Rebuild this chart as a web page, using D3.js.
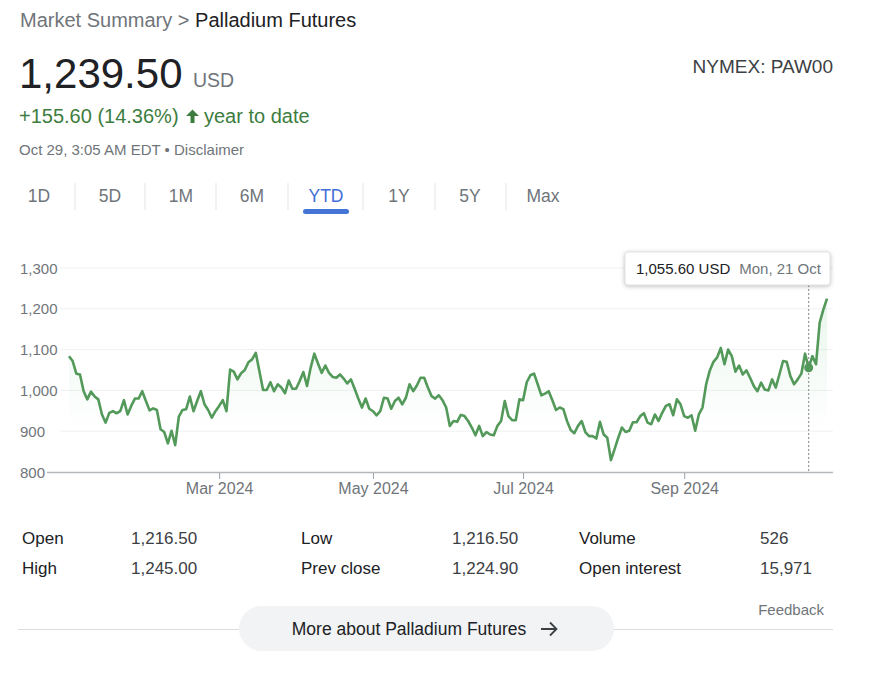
<!DOCTYPE html>
<html>
<head>
<meta charset="utf-8">
<script src="https://cdn.jsdelivr.net/npm/d3@7"></script>
<style>
  html, body { margin: 0; padding: 0; background: #fff; }
  svg { display: block; font-family: Arial, "Liberation Sans", sans-serif; }
</style>
</head>
<body>
<svg id="chart" width="881" height="673"></svg>
<script>
// ---------- data ----------
const values = [
  1083.9, 1072, 1041, 1039, 998, 978, 997, 985, 978, 941,
  921, 945, 949, 944, 949, 976, 941, 962, 980, 980,
  998, 974, 951, 956, 952, 905, 898, 870, 901, 866,
  936, 952, 954, 985, 949, 974, 998, 966, 952, 933,
  949, 962, 976, 949, 1051, 1046, 1027, 1042, 1050, 1069,
  1076, 1092, 1047, 1001, 1001, 1020, 998, 1015, 1007, 993,
  1024, 1004, 1004, 1023, 1045, 1011, 1056, 1090, 1066, 1043,
  1061, 1043, 1033, 1031, 1039, 1029, 1017, 1027, 1004, 980,
  958, 980, 955, 949, 939, 949, 982, 980, 955, 974,
  982, 966, 982, 1015, 998, 1012, 1031, 1031, 1007, 986,
  980, 988, 976, 958, 913, 925, 923, 940, 937, 925,
  909, 890, 913, 888, 898, 892, 890, 913, 925, 974,
  937, 927, 927, 978, 976, 1020, 1037, 1041, 1015, 988,
  992, 998, 976, 952, 958, 954, 925, 903, 895, 913,
  925, 898, 888, 888, 882, 923, 892, 884, 829, 856,
  884, 909, 898, 901, 922, 922, 937, 944, 921, 917,
  941, 925, 945, 962, 966, 939, 978, 966, 937, 933,
  939, 901, 941, 958, 1015, 1049, 1070, 1081, 1104, 1064,
  1100, 1084, 1046, 1061, 1039, 1049, 1031, 1011, 998, 1019,
  1002, 1000, 1027, 1007, 1039, 1072, 1070, 1035, 1015, 1027,
  1041, 1090, 1055.6, 1084, 1064, 1166, 1198, 1224.9
];
const startDate = "2024-01-02";
const endDate = "2024-10-28";
const holidays = ["2024-01-15", "2024-02-19", "2024-03-29", "2024-05-27", "2024-06-19", "2024-07-04", "2024-09-02"];
const yTicks = [800, 900, 1000, 1100, 1200, 1300];
const tickMonths = ["2024-03", "2024-05", "2024-07", "2024-09"];
const hoverIndex = 202;
const tabs = ["1D", "5D", "1M", "6M", "YTD", "1Y", "5Y", "Max"];
const activeTab = "YTD";
const statsLabels = [["Open", "High"], ["Low", "Prev close"], ["Volume", "Open interest"]];
const statsValues = [["1,216.50", "1,245.00"], ["1,216.50", "1,224.90"], ["526", "15,971"]];

// ---------- trading dates ----------
const parse = d3.timeParse("%Y-%m-%d");
const fmtDay = d3.timeFormat("%Y-%m-%d");
const hol = new Set(holidays);
const dates = d3.timeDays(parse(startDate), d3.timeDay.offset(parse(endDate), 1))
  .filter(d => d.getDay() !== 0 && d.getDay() !== 6 && !hol.has(fmtDay(d)));
const n = Math.min(dates.length, values.length);
const data = d3.range(n).map(i => ({ i, date: dates[i], v: values[i] }));
const fmtMonth = d3.timeFormat("%Y-%m");
const tickIdx = tickMonths.map(m => data.find(d => fmtMonth(d.date) === m).i);

// ---------- svg ----------
const svg = d3.select("#chart");
const grey = "#70757a", dark = "#202124", green = "#3d7d40", lineGreen = "#53995a";

// header
const h1 = svg.append("text").attr("x", 20).attr("y", 27).attr("font-size", 20);
h1.append("tspan").attr("fill", grey).text("Market Summary > ");
h1.append("tspan").attr("fill", dark).text("Palladium Futures");

svg.append("text").attr("x", 19).attr("y", 88).attr("font-size", 42).attr("fill", dark).text("1,239.50");
svg.append("text").attr("x", 193).attr("y", 87).attr("font-size", 19.5).attr("fill", grey).text("USD");
svg.append("text").attr("x", 833).attr("y", 73).attr("font-size", 19).attr("fill", "#3c4043")
  .attr("text-anchor", "end").text("NYMEX: PAW00");

svg.append("text").attr("x", 19).attr("y", 123).attr("font-size", 20).attr("fill", green).text("+155.60 (14.36%)");
svg.append("path").attr("d", "M192.5,109.5 l-6.5,6.5 h4.5 v7 h4 v-7 h4.5 z").attr("fill", green);
svg.append("text").attr("x", 204).attr("y", 123).attr("font-size", 20).attr("fill", green).text("year to date");
svg.append("text").attr("x", 19).attr("y", 155).attr("font-size", 15).attr("fill", grey)
  .text("Oct 29, 3:05 AM EDT • Disclaimer");

// tabs
const tabCenters = [39, 110, 181, 252, 326, 399, 470, 543];
const tabSeps = [75, 145, 216, 288, 363, 435, 506];
const tabG = svg.append("g");
tabG.selectAll("line").data(tabSeps).join("line")
  .attr("x1", d => d).attr("x2", d => d).attr("y1", 183).attr("y2", 210)
  .attr("stroke", "#e3e5e8").attr("stroke-width", 1);
tabG.selectAll("text").data(tabs).join("text")
  .attr("x", (d, i) => tabCenters[i]).attr("y", 202).attr("text-anchor", "middle")
  .attr("font-size", 17.5).attr("fill", d => d === activeTab ? "#3f6fd8" : grey).text(d => d);
const ai = tabs.indexOf(activeTab);
tabG.append("rect").attr("x", tabCenters[ai] - 23).attr("y", 209).attr("width", 46).attr("height", 5)
  .attr("rx", 2.5).attr("fill", "#4475d6");

// chart scales
const x = d3.scaleLinear().domain([0, n - 1]).range([69, 827]);
const y = d3.scaleLinear().domain([800, 1300]).range([472, 268]);

// gridlines
svg.append("g").selectAll("line").data(yTicks.filter(t => t > 800)).join("line")
  .attr("x1", 60).attr("x2", 833).attr("y1", d => y(d)).attr("y2", d => y(d))
  .attr("stroke", "#f0f1f2").attr("stroke-width", 1);

// y labels
svg.append("g").selectAll("text").data(yTicks).join("text")
  .attr("x", 20).attr("y", d => y(d) + 5.5).attr("font-size", 15).attr("fill", grey)
  .text(d => d3.format(",")(d));

// area gradient
const defs = svg.append("defs");
const grad = defs.append("linearGradient").attr("id", "ag").attr("x1", 0).attr("x2", 0).attr("y1", 0).attr("y2", 1);
grad.append("stop").attr("offset", "0%").attr("stop-color", "#34a853").attr("stop-opacity", 0.11);
grad.append("stop").attr("offset", "75%").attr("stop-color", "#34a853").attr("stop-opacity", 0);

svg.append("path").datum(data)
  .attr("d", d3.area().x(d => x(d.i)).y0(472).y1(d => y(d.v)))
  .attr("fill", "url(#ag)");

// x axis
const xAxis = d3.axisBottom(x).tickValues(tickIdx).tickSize(7).tickSizeOuter(0)
  .tickFormat(i => d3.timeFormat("%b %Y")(dates[i]));
const gx = svg.append("g").attr("transform", "translate(0,472)").call(xAxis);
gx.select(".domain").remove();
gx.append("line").attr("x1", 47).attr("x2", 833).attr("y1", 0.5).attr("y2", 0.5)
  .attr("stroke", "#b5b8bb").attr("stroke-width", 1.5);
gx.selectAll(".tick line").attr("stroke", "#9aa0a6");
gx.selectAll(".tick text").attr("font-size", 16).attr("fill", grey)
  .attr("font-family", "Arial, 'Liberation Sans', sans-serif").attr("dy", "0.95em").attr("y", 7);

// line
svg.append("path").datum(data)
  .attr("d", d3.line().x(d => x(d.i)).y(d => y(d.v)))
  .attr("fill", "none").attr("stroke", lineGreen).attr("stroke-width", 2.6)
  .attr("stroke-linejoin", "round");

// hover
const hd = data[hoverIndex];
svg.append("line").attr("x1", x(hd.i)).attr("x2", x(hd.i)).attr("y1", 285).attr("y2", 472)
  .attr("stroke", "#80868b").attr("stroke-width", 1).attr("stroke-dasharray", "2,2");
svg.append("circle").attr("cx", x(hd.i)).attr("cy", y(hd.v)).attr("r", 4.5).attr("fill", lineGreen);

const tip = svg.append("g");
tip.append("rect").attr("x", 625).attr("y", 252).attr("width", 205).attr("height", 33).attr("rx", 3)
  .attr("fill", "#fff").attr("stroke", "#e3e3e3")
  .style("filter", "drop-shadow(0px 1px 2px rgba(0,0,0,0.25))");
const tt = tip.append("text").attr("x", 636).attr("y", 273.5).attr("font-size", 15);
tt.append("tspan").attr("fill", dark).text(d3.format(",.2f")(hd.v) + " USD");
tt.append("tspan").attr("fill", grey).attr("dx", 9).text(d3.timeFormat("%a, %d %b")(hd.date));

// stats
const colLabelX = [22, 301, 579], colValX = [131, 452, 760], rowY = [544, 574];
statsLabels.forEach((col, c) => col.forEach((lab, r) => {
  svg.append("text").attr("x", colLabelX[c]).attr("y", rowY[r]).attr("font-size", 17).attr("fill", dark).text(lab);
  svg.append("text").attr("x", colValX[c]).attr("y", rowY[r]).attr("font-size", 17).attr("fill", "#3c4043").text(statsValues[c][r]);
}));

svg.append("text").attr("x", 824).attr("y", 615).attr("font-size", 15).attr("fill", grey)
  .attr("text-anchor", "end").text("Feedback");

svg.append("line").attr("x1", 18).attr("x2", 833).attr("y1", 629.5).attr("y2", 629.5)
  .attr("stroke", "#dadce0").attr("stroke-width", 1);
svg.append("rect").attr("x", 239).attr("y", 606).attr("width", 375).attr("height", 45).attr("rx", 22.5)
  .attr("fill", "#f1f3f4");
svg.append("text").attr("x", 409).attr("y", 635).attr("font-size", 17.5).attr("fill", dark)
  .attr("text-anchor", "middle").text("More about Palladium Futures");
svg.append("path").attr("d", "M541,629 h15 M550,622.5 l6.5,6.5 l-6.5,6.5")
  .attr("fill", "none").attr("stroke", "#3c4043").attr("stroke-width", 1.8);
</script>
</body>
</html>
